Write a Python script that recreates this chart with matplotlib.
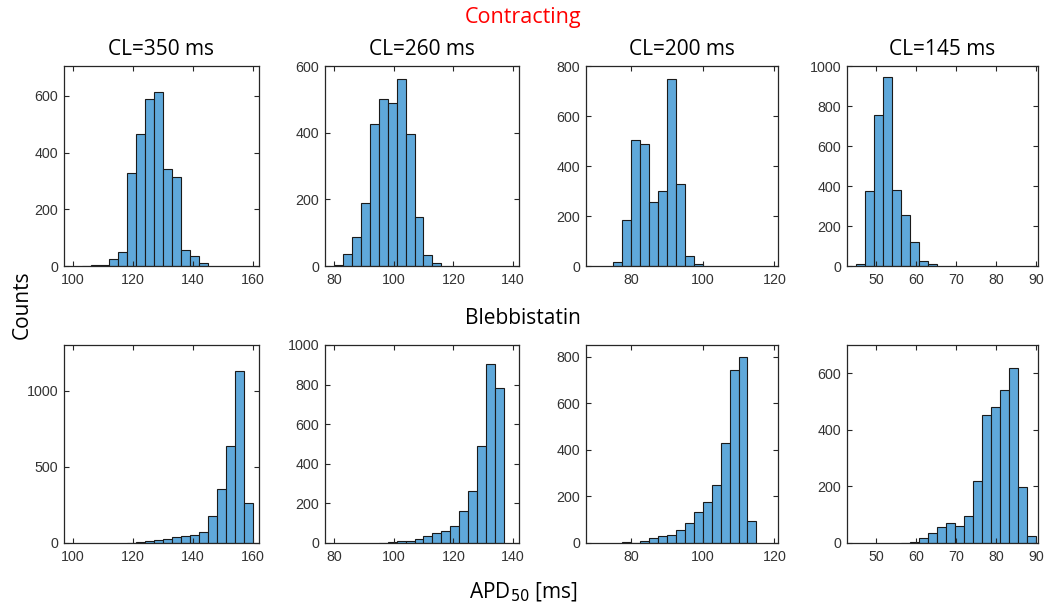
import matplotlib
matplotlib.use("Agg")
import matplotlib.pyplot as plt
import numpy as np

# bin edges (left) + width, and counts
# top row: contracting
c350_start, c350_w = 103, 3
c350_counts = [1, 2, 5, 25, 50, 329, 465, 590, 612, 342, 314, 56, 35, 12]
c260_start, c260_w = 80, 3
c260_counts = [3, 37, 88, 190, 425, 500, 490, 560, 396, 148, 34, 10]
c200_start, c200_w = 75, 2.5
c200_counts = [17, 183, 503, 488, 258, 302, 747, 330, 40, 9]
c145_start, c145_w = 45, 2.25
c145_counts = [10, 373, 756, 945, 378, 257, 122, 27, 10]

# bottom row: blebbistatin
b350_start, b350_w = 118, 3
b350_counts = [2, 4, 13, 20, 26, 37, 44, 53, 70, 175, 355, 638, 1127, 261]
b260_start, b260_w = 95, 3
b260_counts = [1, 3, 10, 12, 20, 34, 52, 62, 86, 160, 265, 492, 904, 785]
b200_start, b200_w = 77.5, 2.5
b200_counts = [3, 1, 9, 20, 30, 34, 56, 86, 135, 177, 248, 428, 742, 799, 96]
b145_start, b145_w = 56.25, 2.25
b145_counts = [1, 4, 17, 35, 55, 71, 60, 94, 219, 454, 481, 540, 617, 198, 25]

titles = ["CL=350 ms", "CL=260 ms", "CL=200 ms", "CL=145 ms"]

top = [(c350_start, c350_w, c350_counts), (c260_start, c260_w, c260_counts),
       (c200_start, c200_w, c200_counts), (c145_start, c145_w, c145_counts)]
bottom = [(b350_start, b350_w, b350_counts), (b260_start, b260_w, b260_counts),
          (b200_start, b200_w, b200_counts), (b145_start, b145_w, b145_counts)]

xlims = [(97, 162), (77, 142), (67.5, 121), (42.7, 90.5)]
xticks = [[100, 120, 140, 160], [80, 100, 120, 140], [80, 100, 120], [50, 60, 70, 80, 90]]
ylims_top = [(0, 705), (0, 600), (0, 800), (0, 1000)]
yticks_top = [[0, 200, 400, 600], [0, 200, 400, 600], [0, 200, 400, 600, 800],
              [0, 200, 400, 600, 800, 1000]]
ylims_bot = [(0, 1300), (0, 1000), (0, 850), (0, 700)]
yticks_bot = [[0, 500, 1000], [0, 200, 400, 600, 800, 1000], [0, 200, 400, 600, 800],
              [0, 200, 400, 600]]

W, H = 1046, 612
col_x = [(64, 259), (325, 519), (586, 778), (847, 1038)]
row_y = [(66, 266), (345, 543)]

bar_color = "#5fa8da"
axis_color = "#262626"
label_font = ["Open Sans", "DejaVu Sans"]

fig = plt.figure(figsize=(W / 100, H / 100), dpi=100)


def make_axes(x0, x1, y0, y1):
    return fig.add_axes([x0 / W, 1 - y1 / H, (x1 - x0) / W, (y1 - y0) / H])


def draw(ax, data, xlim, xt, ylim, yt):
    start, width, counts = data
    edges = start + width * np.arange(len(counts))
    ax.bar(edges, counts, width=width, align="edge", color=bar_color,
           edgecolor="#1a1a1a", linewidth=0.8)
    ax.set_xlim(*xlim)
    ax.set_ylim(*ylim)
    ax.set_xticks(xt)
    ax.set_yticks(yt)
    ax.tick_params(direction="in", top=True, right=True, length=3.5,
                   width=0.8, colors=axis_color, labelsize=10.3)
    ax.tick_params(axis="x", pad=5)
    ax.tick_params(axis="y", pad=4)
    for lab in ax.get_xticklabels() + ax.get_yticklabels():
        lab.set_family("Liberation Sans")
        lab.set_color("#333333")
    for s in ax.spines.values():
        s.set_color(axis_color)
        s.set_linewidth(0.9)


for i in range(4):
    ax = make_axes(col_x[i][0], col_x[i][1], row_y[0][0], row_y[0][1])
    draw(ax, top[i], xlims[i], xticks[i], ylims_top[i], yticks_top[i])
    ax.set_title(titles[i], fontsize=15, family=label_font, pad=8)
    ax = make_axes(col_x[i][0], col_x[i][1], row_y[1][0], row_y[1][1])
    draw(ax, bottom[i], xlims[i], xticks[i], ylims_bot[i], yticks_bot[i])

fig.text(523 / W, 1 - 18 / H, "Contracting", color="red", fontsize=15.5,
         family=label_font, ha="center", va="center")
fig.text(523 / W, 1 - 318 / H, "Blebbistatin", fontsize=15,
         family=label_font, ha="center", va="center")
fig.text(22 / W, 1 - 305 / H, "Counts", fontsize=15, rotation=90,
         family=label_font, ha="center", va="center")
fig.text(523 / W, 1 - 592 / H, "APD$_{50}$ [ms]", fontsize=15,
         family=label_font, ha="center", va="center")

fig.savefig("out.png", dpi=100)
